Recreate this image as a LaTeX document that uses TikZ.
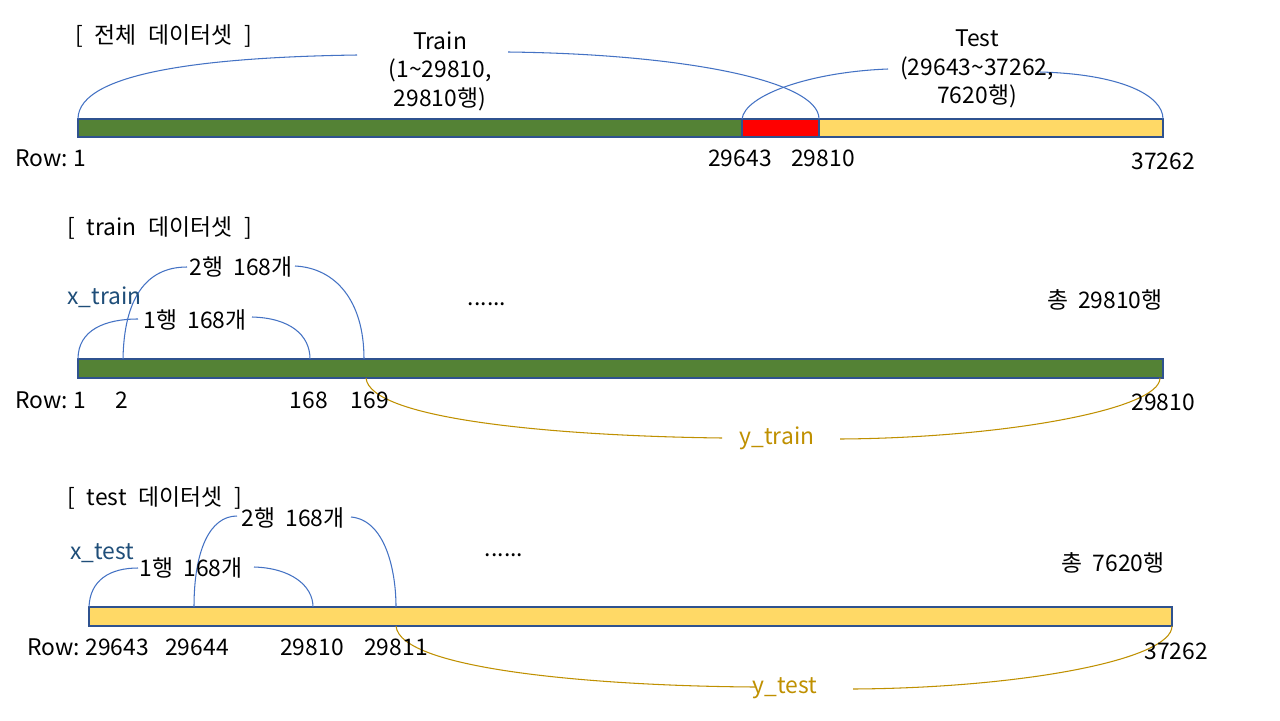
\documentclass[tikz,border=0pt]{standalone}
\usepackage{fontspec}
\setmainfont[WordSpace=2]{Noto Sans CJK KR}
\newcommand\kwsp{\hspace{0.52em}}
\newcommand\rsp{\hspace{0.24em}}
\definecolor{cgreen}{HTML}{548235}
\definecolor{cred}{HTML}{FF0000}
\definecolor{cyellow}{HTML}{FFD966}
\definecolor{cborder}{HTML}{2F528F}
\definecolor{carc}{HTML}{4472C4}
\definecolor{cgold}{HTML}{BF9000}
\definecolor{cxblue}{HTML}{1F4E79}
\begin{document}
\begin{tikzpicture}[x=0.02cm,y=-0.02cm,
  txt/.style={font=\fontsize{13}{16.2}\selectfont, inner sep=0pt, align=center},
  arcline/.style={draw=carc, line width=0.6pt},
  goldline/.style={draw=cgold, line width=0.6pt},
  barseg/.style={draw=cborder, line width=0.8pt}]
\useasboundingbox[fill=white] (0,0) rectangle (1280,720);

% ---------- top: whole dataset ----------
\filldraw[barseg, fill=cgreen] (78,119) rectangle (742,137);
\filldraw[barseg, fill=cred] (742,119) rectangle (819,137);
\filldraw[barseg, fill=cyellow] (819,119) rectangle (1163,137);
\coordinate (t1) at (78,119);
\coordinate (t2) at (742,119);
\coordinate (t3) at (819,119);
\coordinate (t4) at (1163,119);
\coordinate (trL) at (357,55);
\coordinate (trR) at (508,52);
\coordinate (teL) at (888,69);
\coordinate (teR) at (1040,72);
\draw[arcline] (t1) .. controls (78,70) and (220,57) .. (trL);
\draw[arcline] (trR) .. controls (680,54) and (819,80) .. (t3);
\draw[arcline] (t2) .. controls (745,95) and (810,72) .. (teL);
\draw[arcline] (teR) .. controls (1120,74) and (1163,95) .. (t4);

\node[txt, anchor=west] (title1) at (75,36) {[\kwsp 전체\kwsp 데이터셋\kwsp ]};
\node[txt] (train) at (440,71) {Train\\(1\textasciitilde29810,\\29810행)};
\node[txt] (test) at (977,69) {Test\\(29643\textasciitilde37262,\\7620행)};
\node[txt, anchor=west] (row1) at (15,158) {Row:\rsp 1};
\node[txt] (n29643) at (740,158) {29643};
\node[txt] (n29810) at (823,158) {29810};
\node[txt] (n37262) at (1163,161) {37262};

% ---------- train dataset ----------
\filldraw[barseg, fill=cgreen] (78,359) rectangle (1163,378);
\coordinate (a1) at (78,359);
\coordinate (a2) at (123,359);
\coordinate (a3) at (310,359);
\coordinate (a4) at (364,359);
\coordinate (b1) at (366,378);
\coordinate (b2) at (1160,378);
\coordinate (r1L) at (138,319);
\coordinate (r1R) at (252,317);
\coordinate (r2L) at (187,267);
\coordinate (r2R) at (295,266);
\coordinate (ytL) at (722,438);
\coordinate (ytR) at (840,439);
\draw[arcline] (a1) .. controls (78,330) and (105,319) .. (r1L);
\draw[arcline] (r1R) .. controls (290,318) and (310,335) .. (a3);
\draw[arcline] (a2) .. controls (124,300) and (145,267) .. (r2L);
\draw[arcline] (r2R) .. controls (335,268) and (364,300) .. (a4);
\draw[goldline] (b1) .. controls (370,420) and (560,436) .. (ytL);
\draw[goldline] (ytR) .. controls (1000,438) and (1160,410) .. (b2);

\node[txt, anchor=west] (title2) at (67,228) {[\kwsp train\kwsp 데이터셋\kwsp ]};
\node[txt, anchor=west, text=cxblue] (xtrain) at (67,297) {x\_train};
\node[txt] (row1a) at (195,320) {1행 168개};
\node[txt] (row2a) at (241,267) {2행 168개};
\node[txt] (dots1) at (487,304) {......};
\node[txt, anchor=east] (tot1) at (1163,300) {총 29810행};
\node[txt, anchor=west] (rowb1) at (15,400) {Row:\rsp 1};
\node[txt] (nb2) at (122,400) {2};
\node[txt] (nb168) at (309,400) {168};
\node[txt] (nb169) at (370,400) {169};
\node[txt] (nb29810) at (1163,402) {29810};
\node[txt, text=cgold] (ytrain) at (777,438) {y\_train};

% ---------- test dataset ----------
\filldraw[barseg, fill=cyellow] (89,607) rectangle (1172,626);
\coordinate (c1) at (89,607);
\coordinate (c2) at (194,607);
\coordinate (c3) at (313,607);
\coordinate (c4) at (396,607);
\coordinate (d1) at (396,626);
\coordinate (d2) at (1172,626);
\coordinate (s1L) at (138,568);
\coordinate (s1R) at (254,567);
\coordinate (s2L) at (237,516);
\coordinate (s2R) at (351,517);
\coordinate (ysL) at (755,687);
\coordinate (ysR) at (853,689);
\draw[arcline] (c1) .. controls (90,580) and (110,568) .. (s1L);
\draw[arcline] (s1R) .. controls (290,568) and (313,585) .. (c3);
\draw[arcline] (c2) .. controls (194,550) and (210,516) .. (s2L);
\draw[arcline] (s2R) .. controls (385,520) and (396,570) .. (c4);
\draw[goldline] (d1) .. controls (400,670) and (600,686) .. (ysL);
\draw[goldline] (ysR) .. controls (1020,688) and (1172,660) .. (d2);

\node[txt, anchor=west] (title3) at (67,498) {[\kwsp test\kwsp 데이터셋\kwsp ]};
\node[txt, anchor=west, text=cxblue] (xtest) at (70,553) {x\_test};
\node[txt] (row1b) at (191,568) {1행 168개};
\node[txt] (row2b) at (293,518) {2행 168개};
\node[txt] (dots2) at (504,555) {......};
\node[txt, anchor=east] (tot2) at (1165,563) {총 7620행};
\node[txt, anchor=west] (rowc1) at (27,647) {Row:\rsp 29643};
\node[txt] (nc29644) at (197,647) {29644};
\node[txt] (nc29810) at (312,647) {29810};
\node[txt] (nc29811) at (396,647) {29811};
\node[txt] (nc37262) at (1176,651) {37262};
\node[txt, text=cgold] (ytest) at (785,688) {y\_test};
\end{tikzpicture}
\end{document}
